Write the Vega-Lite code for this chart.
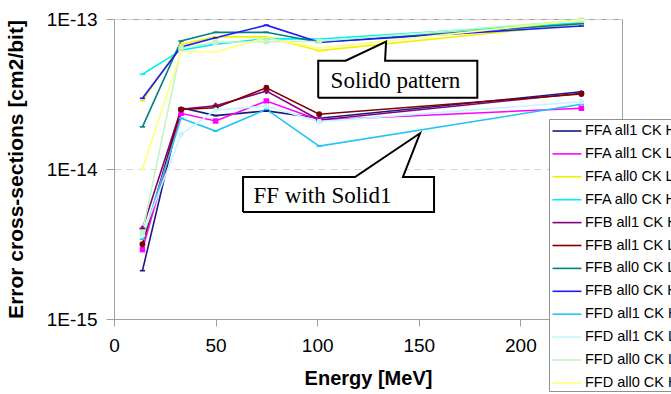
{
  "$schema": "https://vega.github.io/schema/vega-lite/v6.json",
  "width": 508,
  "height": 300,
  "padding": {"left": 5, "top": 10, "right": 0, "bottom": 0},
  "background": "white",
  "config": {
    "font": "Liberation Sans",
    "view": {"stroke": "#a0a0a0", "strokeWidth": 1},
    "axis": {"labelColor": "black", "titleColor": "black", "domainColor": "#a0a0a0", "tickColor": "#a0a0a0", "titleFontWeight": "bold"},
    "point": {"size": 28, "strokeWidth": 1.6, "opacity": 1}
  },
  "datasets": {
    "series": [
      {"series": "FFA all1 CK H", "energy": 14, "sigma": 2.1e-15},
      {"series": "FFA all1 CK H", "energy": 33, "sigma": 2.56e-14},
      {"series": "FFA all1 CK H", "energy": 50, "sigma": 2.27e-14},
      {"series": "FFA all1 CK H", "energy": 75, "sigma": 2.44e-14},
      {"series": "FFA all1 CK H", "energy": 101, "sigma": 2.18e-14},
      {"series": "FFA all1 CK H", "energy": 230, "sigma": 3.27e-14},
      {"series": "FFA all1 CK L", "energy": 14, "sigma": 2.9e-15},
      {"series": "FFA all1 CK L", "energy": 33, "sigma": 2.35e-14},
      {"series": "FFA all1 CK L", "energy": 50, "sigma": 2.09e-14},
      {"series": "FFA all1 CK L", "energy": 75, "sigma": 2.84e-14},
      {"series": "FFA all1 CK L", "energy": 101, "sigma": 2.12e-14},
      {"series": "FFA all1 CK L", "energy": 230, "sigma": 2.54e-14},
      {"series": "FFA all0 CK L", "energy": 14, "sigma": 2.85e-14},
      {"series": "FFA all0 CK L", "energy": 33, "sigma": 6.78e-14},
      {"series": "FFA all0 CK L", "energy": 50, "sigma": 7.6e-14},
      {"series": "FFA all0 CK L", "energy": 75, "sigma": 7.6e-14},
      {"series": "FFA all0 CK L", "energy": 101, "sigma": 6.15e-14},
      {"series": "FFA all0 CK L", "energy": 230, "sigma": 9.25e-14},
      {"series": "FFA all0 CK H", "energy": 14, "sigma": 4.28e-14},
      {"series": "FFA all0 CK H", "energy": 33, "sigma": 6.2e-14},
      {"series": "FFA all0 CK H", "energy": 50, "sigma": 6.8e-14},
      {"series": "FFA all0 CK H", "energy": 75, "sigma": 7.4e-14},
      {"series": "FFA all0 CK H", "energy": 101, "sigma": 7.35e-14},
      {"series": "FFA all0 CK H", "energy": 230, "sigma": 9.45e-14},
      {"series": "FFB all1 CK H", "energy": 14, "sigma": 4.0e-15},
      {"series": "FFB all1 CK H", "energy": 33, "sigma": 2.5e-14},
      {"series": "FFB all1 CK H", "energy": 50, "sigma": 2.64e-14},
      {"series": "FFB all1 CK H", "energy": 75, "sigma": 3.31e-14},
      {"series": "FFB all1 CK H", "energy": 101, "sigma": 2.12e-14},
      {"series": "FFB all1 CK H", "energy": 230, "sigma": 3.2e-14},
      {"series": "FFB all1 CK L", "energy": 14, "sigma": 3.15e-15},
      {"series": "FFB all1 CK L", "energy": 33, "sigma": 2.49e-14},
      {"series": "FFB all1 CK L", "energy": 50, "sigma": 2.56e-14},
      {"series": "FFB all1 CK L", "energy": 75, "sigma": 3.48e-14},
      {"series": "FFB all1 CK L", "energy": 101, "sigma": 2.32e-14},
      {"series": "FFB all1 CK L", "energy": 230, "sigma": 3.16e-14},
      {"series": "FFB all0 CK L", "energy": 14, "sigma": 1.91e-14},
      {"series": "FFB all0 CK L", "energy": 33, "sigma": 7.13e-14},
      {"series": "FFB all0 CK L", "energy": 50, "sigma": 8.15e-14},
      {"series": "FFB all0 CK L", "energy": 75, "sigma": 8.15e-14},
      {"series": "FFB all0 CK L", "energy": 101, "sigma": 7.0e-14},
      {"series": "FFB all0 CK L", "energy": 230, "sigma": 9.3e-14},
      {"series": "FFB all0 CK H", "energy": 14, "sigma": 2.96e-14},
      {"series": "FFB all0 CK H", "energy": 33, "sigma": 6.5e-14},
      {"series": "FFB all0 CK H", "energy": 50, "sigma": 7.5e-14},
      {"series": "FFB all0 CK H", "energy": 75, "sigma": 9.1e-14},
      {"series": "FFB all0 CK H", "energy": 101, "sigma": 7.0e-14},
      {"series": "FFB all0 CK H", "energy": 230, "sigma": 8.98e-14},
      {"series": "FFD all1 CK H", "energy": 14, "sigma": 3.4e-15},
      {"series": "FFD all1 CK H", "energy": 33, "sigma": 2.18e-14},
      {"series": "FFD all1 CK H", "energy": 50, "sigma": 1.79e-14},
      {"series": "FFD all1 CK H", "energy": 75, "sigma": 2.5e-14},
      {"series": "FFD all1 CK H", "energy": 101, "sigma": 1.42e-14},
      {"series": "FFD all1 CK H", "energy": 230, "sigma": 2.7e-14},
      {"series": "FFD all1 CK L", "energy": 14, "sigma": 3.6e-15},
      {"series": "FFD all1 CK L", "energy": 33, "sigma": 1.7e-14},
      {"series": "FFD all1 CK L", "energy": 50, "sigma": 2.47e-14},
      {"series": "FFD all1 CK L", "energy": 75, "sigma": 2.63e-14},
      {"series": "FFD all1 CK L", "energy": 101, "sigma": 2.07e-14},
      {"series": "FFD all1 CK L", "energy": 230, "sigma": 2.81e-14},
      {"series": "FFD all0 CK L", "energy": 14, "sigma": 3.8e-15},
      {"series": "FFD all0 CK L", "energy": 33, "sigma": 6.4e-14},
      {"series": "FFD all0 CK L", "energy": 50, "sigma": 7.0e-14},
      {"series": "FFD all0 CK L", "energy": 75, "sigma": 7.06e-14},
      {"series": "FFD all0 CK L", "energy": 101, "sigma": 7.1e-14},
      {"series": "FFD all0 CK L", "energy": 230, "sigma": 9.85e-14},
      {"series": "FFD all0 CK H", "energy": 14, "sigma": 1.0e-14},
      {"series": "FFD all0 CK H", "energy": 33, "sigma": 6.05e-14},
      {"series": "FFD all0 CK H", "energy": 50, "sigma": 6.05e-14},
      {"series": "FFD all0 CK H", "energy": 75, "sigma": 7.5e-14},
      {"series": "FFD all0 CK H", "energy": 101, "sigma": 6.4e-14},
      {"series": "FFD all0 CK H", "energy": 230, "sigma": 9.85e-14}
    ],
    "callout": [
      {"id": "s0", "ord": 1, "energy": 100.5, "sigma": 2.99e-14},
      {"id": "s0", "ord": 2, "energy": 100.5, "sigma": 5.27e-14},
      {"id": "s0", "ord": 3, "energy": 114.0, "sigma": 5.27e-14},
      {"id": "s0", "ord": 4, "energy": 133.9, "sigma": 7.06e-14},
      {"id": "s0", "ord": 5, "energy": 133.4, "sigma": 5.27e-14},
      {"id": "s0", "ord": 6, "energy": 178.8, "sigma": 5.27e-14},
      {"id": "s0", "ord": 7, "energy": 178.8, "sigma": 2.99e-14},
      {"id": "s0", "ord": 8, "energy": 100.5, "sigma": 2.99e-14},
      {"id": "s1", "ord": 1, "energy": 63.5, "sigma": 5.17e-15},
      {"id": "s1", "ord": 2, "energy": 63.5, "sigma": 8.85e-15},
      {"id": "s1", "ord": 3, "energy": 118.6, "sigma": 8.85e-15},
      {"id": "s1", "ord": 4, "energy": 150.6, "sigma": 1.73e-14},
      {"id": "s1", "ord": 5, "energy": 142.2, "sigma": 8.85e-15},
      {"id": "s1", "ord": 6, "energy": 157.5, "sigma": 8.85e-15},
      {"id": "s1", "ord": 7, "energy": 157.5, "sigma": 5.17e-15},
      {"id": "s1", "ord": 8, "energy": 63.5, "sigma": 5.17e-15}
    ],
    "labels": [
      {"energy": 138.5, "sigma": 3.48e-14, "text": "Solid0 pattern"},
      {"energy": 102.6, "sigma": 5.89e-15, "text": "FF with Solid1"}
    ]
  },
  "encoding": {
    "x": {
      "field": "energy", "type": "quantitative",
      "scale": {"domain": [0, 250], "nice": false, "zero": false},
      "axis": {"values": [0, 50, 100, 150, 200], "grid": false, "labelFontSize": 19, "titleFontSize": 20, "tickSize": 7, "labelPadding": 10, "titlePadding": 13, "labelFlush": false},
      "title": "Energy [MeV]"
    },
    "y": {
      "field": "sigma", "type": "quantitative",
      "scale": {"type": "log", "domain": [1e-15, 1e-13], "nice": false},
      "axis": {"values": [1e-15, 1e-14, 1e-13], "labelExpr": "'1E' + round(log(datum.value)/LN10)", "grid": true, "gridDash": [7, 5], "gridColor": "#d4d4d4", "labelFontSize": 19, "titleFontSize": 21, "tickSize": 8, "labelPadding": 9, "titlePadding": 20},
      "title": "Error cross-sections [cm2/bit]"
    }
  },
  "layer": [
    {
      "data": {"name": "series"},
      "mark": {"type": "line", "strokeWidth": 1.6},
      "encoding": {
        "color": {
          "field": "series", "type": "nominal",
          "scale": {
            "domain": ["FFA all1 CK H", "FFA all1 CK L", "FFA all0 CK L", "FFA all0 CK H", "FFB all1 CK H", "FFB all1 CK L", "FFB all0 CK L", "FFB all0 CK H", "FFD all1 CK H", "FFD all1 CK L", "FFD all0 CK L", "FFD all0 CK H"],
            "range": ["#1a1a80", "#ff00ff", "#f2f200", "#00f0f0", "#800080", "#800000", "#008080", "#1a1aff", "#22c4f4", "#c4f6ff", "#c4f4c4", "#ffff80"]
          },
          "legend": {
            "orient": "none", "legendX": 435, "legendY": 100, "title": null,
            "symbolType": "M-1.45,0H1.45", "symbolSize": 400, "symbolStrokeWidth": 1.6, "symbolOffset": 6,
            "labelFontSize": 14.5, "labelOffset": 7, "labelColor": "black", "labelLimit": 300,
            "rowPadding": 4.9, "padding": 1, "strokeColor": "#909090", "fillColor": "white"
          }
        }
      }
    },
    {"data": {"name": "series"}, "transform": [{"filter": "datum.series === 'FFA all1 CK H'"}], "mark": {"type": "point", "shape": "stroke", "filled": false, "color": "#1a1a80"}},
    {"data": {"name": "series"}, "transform": [{"filter": "datum.series === 'FFA all1 CK L'"}], "mark": {"type": "point", "shape": "square", "filled": true, "color": "#ff00ff", "size": 30}},
    {"data": {"name": "series"}, "transform": [{"filter": "datum.series === 'FFA all0 CK L'"}], "mark": {"type": "point", "shape": "stroke", "filled": false, "color": "#f2f200"}},
    {"data": {"name": "series"}, "transform": [{"filter": "datum.series === 'FFA all0 CK H'"}], "mark": {"type": "point", "shape": "stroke", "filled": false, "color": "#00f0f0"}},
    {"data": {"name": "series"}, "transform": [{"filter": "datum.series === 'FFB all1 CK H'"}], "mark": {"type": "point", "shape": "cross", "filled": true, "color": "#800080", "size": 34}},
    {"data": {"name": "series"}, "transform": [{"filter": "datum.series === 'FFB all1 CK L'"}], "mark": {"type": "point", "shape": "circle", "filled": true, "color": "#800000", "size": 34}},
    {"data": {"name": "series"}, "transform": [{"filter": "datum.series === 'FFB all0 CK L'"}], "mark": {"type": "point", "shape": "stroke", "filled": false, "color": "#008080"}},
    {"data": {"name": "series"}, "transform": [{"filter": "datum.series === 'FFB all0 CK H'"}], "mark": {"type": "point", "shape": "stroke", "filled": false, "color": "#1a1aff"}},
    {"data": {"name": "series"}, "transform": [{"filter": "datum.series === 'FFD all1 CK H'"}], "mark": {"type": "point", "shape": "stroke", "filled": false, "color": "#22c4f4"}},
    {"data": {"name": "series"}, "transform": [{"filter": "datum.series === 'FFD all1 CK L'"}], "mark": {"type": "point", "shape": "circle", "filled": true, "color": "#c4f6ff", "size": 30}},
    {"data": {"name": "series"}, "transform": [{"filter": "datum.series === 'FFD all0 CK L'"}], "mark": {"type": "point", "shape": "square", "filled": true, "color": "#c4f4c4", "size": 30}},
    {"data": {"name": "series"}, "transform": [{"filter": "datum.series === 'FFD all0 CK H'"}], "mark": {"type": "point", "shape": "stroke", "filled": false, "color": "#ffff80"}},
    {
      "data": {"name": "callout"},
      "mark": {"type": "line", "fill": "white", "stroke": "black", "strokeWidth": 2, "strokeJoin": "miter"},
      "encoding": {
        "detail": {"field": "id"},
        "order": {"field": "ord", "type": "quantitative"}
      }
    },
    {
      "data": {"name": "labels"},
      "mark": {"type": "text", "font": "Liberation Serif", "fontSize": 23, "align": "center", "baseline": "alphabetic", "color": "black"},
      "encoding": {"text": {"field": "text"}}
    }
  ]
}
